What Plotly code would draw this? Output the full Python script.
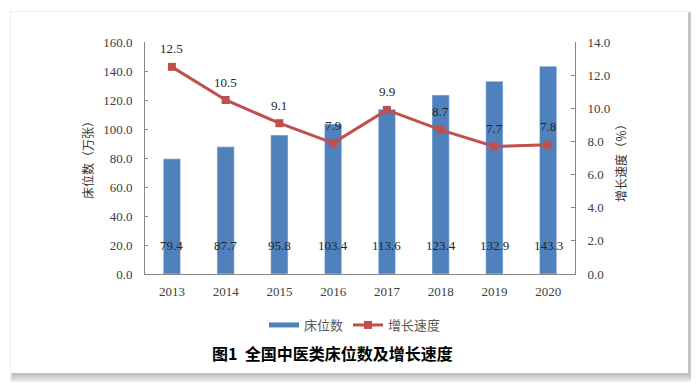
import plotly.graph_objects as go

years = ["2013", "2014", "2015", "2016", "2017", "2018", "2019", "2020"]
beds = [79.4, 87.7, 95.8, 103.4, 113.6, 123.4, 132.9, 143.3]
growth = [12.5, 10.5, 9.1, 7.9, 9.9, 8.7, 7.7, 7.8]
left_ticks = [0, 20, 40, 60, 80, 100, 120, 140, 160]
right_ticks = [0, 2, 4, 6, 8, 10, 12, 14]

BLUE = "#4F81BD"
RED = "#C0504D"
SERIF = "Liberation Serif, Times New Roman, serif"
CJK = "Noto Sans CJK SC, sans-serif"
TXT = "#404040"

fig = go.Figure()
fig.add_trace(go.Bar(x=years, y=beds, name="床位数", marker_color=BLUE,
                     yaxis="y", showlegend=False))
# legend entry drawn as a thick line, like the reference
fig.add_trace(go.Scatter(x=[None], y=[None], name="床位数", mode="lines",
                         line=dict(color=BLUE, width=5)))
fig.add_trace(go.Scatter(x=years, y=growth, name="增长速度", yaxis="y2",
                         mode="lines+markers",
                         line=dict(color=RED, width=3),
                         marker=dict(symbol="square", size=8, color=RED)))

ann = []
for i, v in enumerate(beds):
    ann.append(dict(x=i, y=20, xref="x", yref="y", text=f"{v:.1f}",
                    showarrow=False, font=dict(family=SERIF, size=13, color="#262626")))
for i, v in enumerate(growth):
    ann.append(dict(x=i, y=v, xref="x", yref="y2", text=f"{v:.1f}", yshift=18,
                    showarrow=False, font=dict(family=SERIF, size=13, color="#262626")))


# page px -> paper coords (plot area spans x 145..575, y 42..274 on the page)
def px_x(p):
    return (p - 145) / 430.0


def px_y(p):
    return (274 - p) / 232.0


ann.append(dict(x=px_x(332), y=px_y(353), xref="paper", yref="paper",
                xanchor="center", yanchor="middle",
                text="<b>图1  全国中医类床位数及增长速度</b>", showarrow=False,
                font=dict(family=CJK, size=16, color="#000000")))
ann.append(dict(x=px_x(87), y=px_y(157), xref="paper", yref="paper",
                xanchor="center", yanchor="middle", textangle=-90,
                text="床位数（万张）", showarrow=False,
                font=dict(family=CJK, size=12, color="#333333")))
ann.append(dict(x=px_x(620), y=px_y(160), xref="paper", yref="paper",
                xanchor="center", yanchor="middle", textangle=-90,
                text="增长速度（％）", showarrow=False,
                font=dict(family=CJK, size=12, color="#333333")))

shapes = []
for g in range(9, 0, -1):
    shapes.append(dict(type="rect", xref="paper", yref="paper", layer="below",
                       x0=px_x(11 - g / 3 + 2), x1=px_x(688 + g + 1),
                       y0=px_y(373 + g + 1), y1=px_y(12 - g / 3 + 2),
                       fillcolor="#707070", opacity=0.055, line=dict(width=0)))
shapes.append(dict(type="rect", xref="paper", yref="paper", layer="below",
                   x0=px_x(11), x1=px_x(688), y0=px_y(373), y1=px_y(12),
                   fillcolor="white", line=dict(width=0)))

# the page body adds an 8px offset, so the figure is laid out 8px up/left
fig.update_layout(
    width=683, height=374,
    margin=dict(l=137, r=116, t=34, b=108),
    paper_bgcolor="white", plot_bgcolor="rgba(0,0,0,0)",
    bargap=0.68,
    showlegend=True,
    legend=dict(orientation="h", x=px_x(355), xanchor="center",
                y=px_y(325), yanchor="middle",
                font=dict(family=CJK, size=13, color="#595959"),
                bgcolor="rgba(0,0,0,0)"),
    xaxis=dict(type="category", range=[-0.5, len(years) - 0.5],
               showline=True, linecolor="#868686", linewidth=1, ticks="",
               ticklabelstandoff=5,
               tickfont=dict(family=SERIF, size=13, color=TXT), showgrid=False),
    yaxis=dict(range=[0, 160], tickvals=left_ticks,
               ticktext=[f"{v:.1f}" for v in left_ticks],
               showline=True, linecolor="#868686", linewidth=1,
               ticks="inside", ticklen=3, tickcolor="#868686",
               ticklabelstandoff=9,
               showgrid=False, zeroline=False,
               tickfont=dict(family=SERIF, size=13, color=TXT)),
    yaxis2=dict(range=[0, 14], tickvals=right_ticks,
                ticktext=[f"{v:.1f}" for v in right_ticks],
                overlaying="y", side="right",
                showline=True, linecolor="#868686", linewidth=1,
                ticks="inside", ticklen=4, tickcolor="#868686",
                ticklabelstandoff=9,
                showgrid=False, zeroline=False,
                tickfont=dict(family=SERIF, size=13, color=TXT)),
    annotations=ann, shapes=shapes,
)

fig.write_html("out.html")
